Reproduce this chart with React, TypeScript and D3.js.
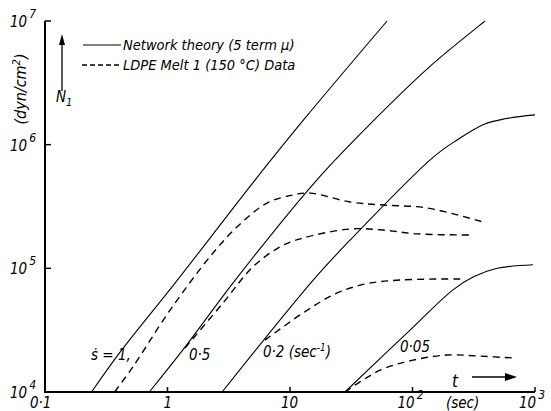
import React from "react";
import * as d3 from "d3";

// Network theory (solid) curves: [t (sec), N1 (dyn/cm^2)]
const theory1: [number, number][] = [[0.24, 1e4], [0.41, 2.1e4], [1.2, 8e4], [5.2, 5.2e5], [13, 1.6e6], [62, 1e7]];
const theory05: [number, number][] = [[0.71, 1e4], [1.34, 2.2e4], [3.56, 8e4], [16.6, 5.2e5], [48.5, 1.58e6], [139, 4.3e6], [391, 1e7]];
const theory02: [number, number][] = [[2.79, 1e4], [15.4, 8e4], [30.9, 1.69e5], [147, 7.9e5], [231, 1.09e6], [377, 1.45e6], [569, 1.62e6], [1000, 1.74e6]];
const theory005: [number, number][] = [[28.1, 1e4], [95.5, 3.17e4], [214, 6.7e4], [312, 8.5e4], [490, 1.0e5], [964, 1.07e5]];

// LDPE Melt 1 (150 °C) data (dashed)
const data1: [number, number][] = [[0.37, 1e4], [0.52, 1.59e4], [1.05, 4.6e4], [2.22, 1.24e5], [3.69, 2.16e5], [6.49, 3.37e5], [10.6, 3.92e5], [14.6, 4.06e5], [30.9, 3.44e5], [57.4, 3.25e5], [131, 3.08e5], [377, 2.37e5]];
const data05: [number, number][] = [[1.39, 2.27e4], [2.84, 5.25e4], [4.99, 1.03e5], [8.28, 1.49e5], [12.1, 1.73e5], [30.9, 2.08e5], [57.4, 2.04e5], [109, 1.9e5], [312, 1.86e5]];
const data02: [number, number][] = [[6.25, 2.63e4], [12.8, 4.36e4], [23.3, 6.2e4], [40.9, 7.46e4], [79, 8.05e4], [268, 8.2e4]];
const data005: [number, number][] = [[28.1, 1e4], [54.3, 1.5e4], [101, 1.81e4], [191, 1.99e4], [356, 1.95e4], [687, 1.88e4]];

const xTicks = [0.1, 1, 10, 100, 1000];
const yTicks = [1e4, 1e5, 1e6, 1e7];

const FONT = "'DejaVu Sans Condensed', 'Liberation Sans Narrow', 'DejaVu Sans', sans-serif";

export default function App() {
  const x = d3.scaleLog().domain([0.1, 1000]).range([45, 535]);
  const y = d3.scaleLog().domain([1e4, 1e7]).range([392, 21]);
  const line = d3
    .line<[number, number]>()
    .x((d) => x(d[0]))
    .y((d) => y(d[1]))
    .curve(d3.curveCatmullRom.alpha(0.5));

  const solids = [theory1, theory05, theory02, theory005];
  const dashes = [data1, data05, data02, data005];

  const txt = { fontFamily: FONT, fontStyle: "italic" as const, fill: "#000" };

  return (
    <svg width={551} height={411} style={{ position: "absolute", left: 0, top: 0, background: "#fff" }}>
      <rect width={551} height={411} fill="#fff" />
      {/* axes */}
      <line x1={x(0.1)} x2={x(0.1)} y1={y(1e7)} y2={y(1e4) + 1} stroke="#000" strokeWidth={2} />
      <line x1={x(0.1) - 1} x2={x(1000)} y1={y(1e4)} y2={y(1e4)} stroke="#000" strokeWidth={2} />
      {yTicks.slice(1).map((t) => (
        <line key={"yt" + t} x1={x(0.1)} x2={x(0.1) + 6} y1={y(t)} y2={y(t)} stroke="#000" strokeWidth={1.5} />
      ))}
      {xTicks.slice(1).map((t) => (
        <line key={"xt" + t} x1={x(t)} x2={x(t)} y1={y(1e4)} y2={y(1e4) - 5} stroke="#000" strokeWidth={1.5} />
      ))}

      {/* y tick labels */}
      {yTicks.map((t) => {
        const e = Math.round(Math.log10(t));
        return (
          <text key={"yl" + t} x={10} y={y(t) + 6} fontSize={15} {...txt}>
            10<tspan dx={2} dy={-9} fontSize={12}>{e}</tspan>
          </text>
        );
      })}
      {/* x tick labels */}
      <text x={30} y={408} fontSize={15} {...txt}>0·1</text>
      <text x={x(1) - 4} y={408} fontSize={15} {...txt}>1</text>
      <text x={x(10) - 9} y={408} fontSize={15} {...txt}>10</text>
      <text x={x(100) - 15} y={408} fontSize={15} {...txt}>
        10<tspan dx={2} dy={-9} fontSize={12}>2</tspan>
      </text>
      <text x={446} y={408} fontSize={15} {...txt}>(sec)</text>
      <text x={x(1000) - 16} y={408} fontSize={15} {...txt}>
        10<tspan dx={2} dy={-9} fontSize={12}>3</tspan>
      </text>

      {/* y axis title */}
      <text transform="translate(26,89) rotate(-90)" textAnchor="middle" fontSize={16} {...txt}>
        (dyn/cm<tspan dy={-6} fontSize={11}>2</tspan><tspan dy={6}>)</tspan>
      </text>

      {/* N1 arrow */}
      <line x1={62} x2={62} y1={91} y2={40} stroke="#000" strokeWidth={1.3} />
      <path d="M62,34 L59,45 L65,45 Z" fill="#000" />
      <text x={56} y={102} fontSize={15} {...txt}>
        N<tspan dy={4} fontSize={11}>1</tspan>
      </text>

      {/* legend */}
      <line x1={83} x2={121} y1={45} y2={45} stroke="#000" strokeWidth={1} />
      <text x={123} y={50} fontSize={14.5} {...txt}>Network theory (5 term μ)</text>
      <line x1={82} x2={121} y1={65} y2={65} stroke="#000" strokeWidth={1.3} strokeDasharray="5,3" />
      <text x={123} y={70} fontSize={14.5} {...txt}>LDPE Melt 1 (150 °C) Data</text>

      {/* curves */}
      {solids.map((s, i) => (
        <path key={"s" + i} d={line(s) || ""} fill="none" stroke="#000" strokeWidth={1.1} />
      ))}
      {dashes.map((s, i) => (
        <path key={"d" + i} d={line(s) || ""} fill="none" stroke="#000" strokeWidth={1.4} strokeDasharray="7,5" />
      ))}

      {/* rate labels */}
      <text x={91} y={360} fontSize={15} {...txt}>ṡ = 1,</text>
      <text x={189} y={360} fontSize={15} {...txt}>0·5</text>
      <text x={263} y={357} fontSize={15} {...txt}>
        0·2 (sec<tspan dy={-6} fontSize={10}>-1</tspan><tspan dy={6}>)</tspan>
      </text>
      <text x={400} y={352} fontSize={15} {...txt}>0·05</text>

      {/* t arrow */}
      <text x={452} y={387} fontSize={17} {...txt}>t</text>
      <line x1={472} x2={510} y1={377} y2={377} stroke="#000" strokeWidth={1.3} />
      <path d="M517,377 L505,373 L505,381 Z" fill="#000" />
    </svg>
  );
}
